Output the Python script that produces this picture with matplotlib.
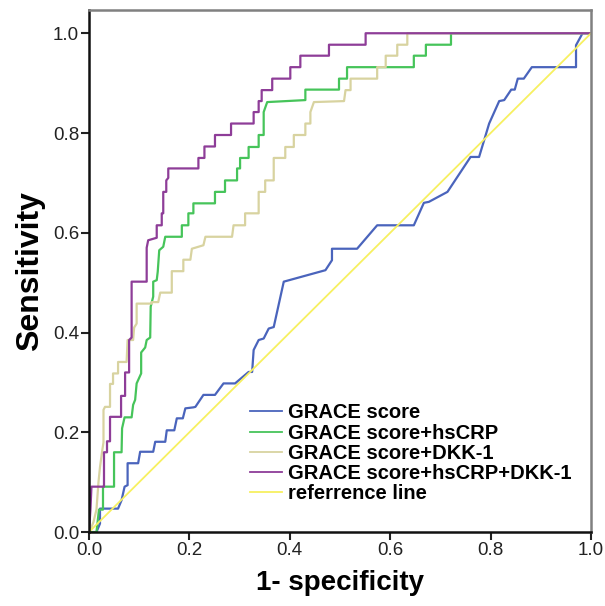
import matplotlib
matplotlib.use("Agg")
import matplotlib.pyplot as plt

plt.rcParams['font.family'] = ['Liberation Sans', 'DejaVu Sans']

# ROC curves (1-specificity, sensitivity)
grace_x = [0, 0.015, 0.022, 0.022, 0.058, 0.065, 0.071, 0.077, 0.077, 0.098, 0.102, 0.128, 0.132,
           0.152, 0.155, 0.170, 0.175, 0.187, 0.192, 0.208, 0.212, 0.228, 0.251, 0.268, 0.291, 0.318,
           0.325, 0.328, 0.338, 0.348, 0.358, 0.368, 0.388, 0.471, 0.484, 0.484, 0.534, 0.574, 0.647,
           0.667, 0.677, 0.714, 0.760, 0.777, 0.797, 0.817, 0.827, 0.841, 0.848, 0.854, 0.866, 0.882,
           0.970, 0.970, 0.983, 1.0]
grace_y = [0, 0, 0.017, 0.047, 0.047, 0.064, 0.091, 0.094, 0.138, 0.138, 0.161, 0.161, 0.181,
           0.181, 0.204, 0.204, 0.228, 0.228, 0.248, 0.250, 0.251, 0.275, 0.275, 0.298, 0.298, 0.321,
           0.321, 0.365, 0.385, 0.388, 0.408, 0.411, 0.502, 0.525, 0.545, 0.568, 0.568, 0.615, 0.615,
           0.660, 0.662, 0.682, 0.752, 0.752, 0.819, 0.864, 0.866, 0.887, 0.887, 0.909, 0.909, 0.932,
           0.932, 0.976, 1.0, 1.0]

crp_x = [0, 0.015, 0.020, 0.028, 0.028, 0.050, 0.050, 0.065, 0.066, 0.071, 0.085, 0.088, 0.092,
         0.095, 0.104, 0.104, 0.112, 0.115, 0.122, 0.123, 0.128, 0.128, 0.135, 0.137, 0.140, 0.148,
         0.152, 0.185, 0.185, 0.198, 0.198, 0.208, 0.208, 0.251, 0.251, 0.271, 0.271, 0.295, 0.295,
         0.301, 0.301, 0.318, 0.318, 0.338, 0.338, 0.348, 0.348, 0.355, 0.431, 0.431, 0.498, 0.498,
         0.514, 0.514, 0.647, 0.647, 0.671, 0.671, 0.721, 0.721, 1.0]
crp_y = [0, 0, 0.045, 0.045, 0.091, 0.091, 0.160, 0.160, 0.208, 0.230, 0.230, 0.255, 0.265,
         0.298, 0.318, 0.360, 0.370, 0.385, 0.390, 0.452, 0.472, 0.502, 0.505, 0.522, 0.565, 0.572,
         0.592, 0.592, 0.615, 0.615, 0.639, 0.639, 0.659, 0.659, 0.682, 0.682, 0.705, 0.705, 0.729,
         0.729, 0.750, 0.750, 0.772, 0.772, 0.796, 0.796, 0.842, 0.862, 0.866, 0.887, 0.887, 0.909,
         0.909, 0.932, 0.932, 0.955, 0.955, 0.977, 0.977, 1.0, 1.0]

dkk_x = [0, 0.005, 0.009, 0.015, 0.019, 0.022, 0.026, 0.029, 0.029, 0.032, 0.042, 0.042, 0.048,
         0.048, 0.058, 0.058, 0.075, 0.077, 0.088, 0.090, 0.095, 0.095, 0.125, 0.125, 0.138, 0.142,
         0.165, 0.165, 0.188, 0.188, 0.202, 0.205, 0.228, 0.232, 0.285, 0.288, 0.311, 0.311, 0.338,
         0.338, 0.351, 0.351, 0.368, 0.368, 0.391, 0.391, 0.408, 0.408, 0.431, 0.431, 0.441, 0.441,
         0.448, 0.508, 0.511, 0.521, 0.521, 0.574, 0.574, 0.591, 0.591, 0.614, 0.614, 0.634, 0.634, 1.0]
dkk_y = [0, 0.010, 0.020, 0.045, 0.100, 0.130, 0.160, 0.180, 0.245, 0.251, 0.251, 0.297, 0.297,
         0.318, 0.318, 0.341, 0.341, 0.385, 0.385, 0.410, 0.418, 0.458, 0.458, 0.461, 0.461, 0.480,
         0.480, 0.523, 0.523, 0.546, 0.546, 0.568, 0.575, 0.592, 0.592, 0.615, 0.615, 0.639, 0.639,
         0.682, 0.682, 0.705, 0.705, 0.750, 0.750, 0.772, 0.772, 0.796, 0.796, 0.819, 0.819, 0.842,
         0.862, 0.864, 0.886, 0.886, 0.909, 0.909, 0.932, 0.932, 0.955, 0.955, 0.977, 0.977, 1.0, 1.0]

both_x = [0, 0.003, 0.005, 0.030, 0.030, 0.036, 0.036, 0.042, 0.042, 0.064, 0.064, 0.072, 0.072,
          0.080, 0.080, 0.085, 0.085, 0.115, 0.115, 0.118, 0.135, 0.135, 0.145, 0.145, 0.148, 0.148,
          0.154, 0.154, 0.158, 0.158, 0.218, 0.218, 0.230, 0.230, 0.251, 0.251, 0.283, 0.283, 0.328,
          0.328, 0.338, 0.338, 0.344, 0.344, 0.365, 0.365, 0.401, 0.401, 0.421, 0.421, 0.478, 0.478,
          0.551, 0.551, 1.0]
both_y = [0, 0.045, 0.091, 0.091, 0.160, 0.160, 0.182, 0.182, 0.231, 0.231, 0.273, 0.273, 0.320,
          0.320, 0.385, 0.390, 0.502, 0.502, 0.570, 0.585, 0.590, 0.615, 0.615, 0.639, 0.639, 0.682,
          0.682, 0.705, 0.710, 0.729, 0.729, 0.750, 0.750, 0.773, 0.773, 0.796, 0.796, 0.819, 0.819,
          0.842, 0.842, 0.864, 0.864, 0.886, 0.886, 0.909, 0.909, 0.932, 0.932, 0.955, 0.955, 0.977,
          0.977, 1.0, 1.0]

ref = [0, 1]

labels = ['GRACE score', 'GRACE score+hsCRP', 'GRACE score+DKK-1',
          'GRACE score+hsCRP+DKK-1', 'referrence line']
colors = ['#4a64bc', '#46c45a', '#d8d3a0', '#8e3d98', '#f7f060']

fig = plt.figure(figsize=(6.05, 6.06), dpi=100)
ax = fig.add_axes([0.147, 0.122, 0.830, 0.861])

ax.plot(grace_x, grace_y, color=colors[0], lw=1.6, label=labels[0])
ax.plot(crp_x, crp_y, color=colors[1], lw=1.6, label=labels[1])
ax.plot(dkk_x, dkk_y, color=colors[2], lw=1.6, label=labels[2])
ax.plot(both_x, both_y, color=colors[3], lw=1.6, label=labels[3])
ax.plot(ref, ref, color=colors[4], lw=1.3, label=labels[4])

ax.set_xlim(0, 1.0)
ax.set_ylim(0, 1.046)
ticks = [0, 0.2, 0.4, 0.6, 0.8, 1.0]
ax.set_xticks(ticks)
ax.set_yticks(ticks)
ax.set_xticklabels(['%.1f' % t for t in ticks])
ax.set_yticklabels(['%.1f' % t for t in ticks])
ax.tick_params(direction='out', length=6, width=1.5, labelsize=13.5, colors='#222222', pad=1)

for s in ['left', 'bottom']:
    ax.spines[s].set_linewidth(1.8)
    ax.spines[s].set_color('#111111')
for s in ['top', 'right']:
    ax.spines[s].set_linewidth(1.8)
    ax.spines[s].set_color('#808080')

ax.set_xlabel('1- specificity', fontsize=20, fontweight='bold', labelpad=8)
ax.set_ylabel('Sensitivity', fontsize=23, fontweight='bold', labelpad=6)

leg = ax.legend(loc='center left', bbox_to_anchor=(0.321, 0.151), frameon=False,
                prop={'weight': 'bold', 'size': 14.5}, handlelength=1.6,
                handletextpad=0.3, labelspacing=0.06, borderpad=0, borderaxespad=0)
for line in leg.get_lines():
    line.set_linewidth(1.3)

fig.savefig('out.png', dpi=100)
